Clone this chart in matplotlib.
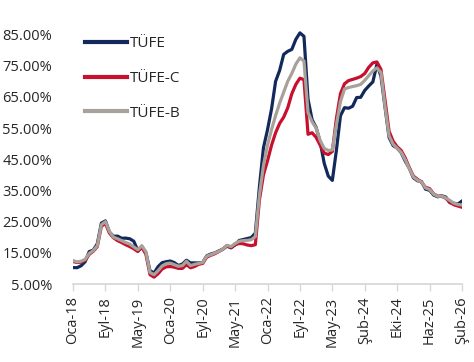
import matplotlib
matplotlib.use("Agg")
import matplotlib.pyplot as plt
from matplotlib.ticker import FixedLocator, FuncFormatter

plt.rcParams['font.family'] = ['Open Sans', 'DejaVu Sans']

# Monthly annual inflation (%), 97 points (Feb-2018 .. Feb-2026)
tufe = [10.26, 10.23, 10.85, 12.15, 15.39, 15.85, 17.90, 24.52, 25.24, 21.62, 20.30,
        20.35, 19.67, 19.71, 19.50, 18.71, 15.72, 16.65, 15.01, 9.26, 8.55, 10.56, 11.84,
        12.15, 12.37, 11.86, 10.94, 11.39, 12.62, 11.76, 11.77, 11.75, 11.89, 14.03, 14.60,
        14.97, 15.61, 16.19, 17.14, 16.59, 17.53, 18.95, 19.25, 19.58, 19.89, 21.31, 36.08,
        48.69, 54.44, 61.14, 69.97, 73.50, 78.62, 79.60, 80.21, 83.45, 85.51, 84.39, 64.27,
        57.68, 55.18, 50.51, 43.68, 39.59, 38.21, 47.83, 58.94, 61.53, 61.36, 61.98, 64.77,
        64.86, 67.07, 68.50, 69.80, 75.45, 71.60, 61.78, 51.97, 49.38, 48.58, 47.09, 44.38,
        42.12, 39.05, 38.10, 37.86, 35.41, 35.05, 33.52, 32.95, 33.29, 32.87, 31.07, 30.89,
        30.65, 31.60]

tufe_c = [12.2, 11.9, 12.0, 12.6, 14.5, 15.5, 17.0, 23.5, 24.4, 21.3, 19.8,
          18.9, 18.3, 17.6, 17.0, 16.3, 15.4, 16.9, 14.5, 8.0, 7.2, 8.3, 9.8,
          10.5, 10.6, 10.4, 10.0, 10.0, 11.2, 10.2, 10.6, 11.3, 11.6, 13.6, 14.2,
          14.7, 15.4, 16.2, 17.3, 16.7, 17.6, 18.0, 17.9, 17.5, 17.3, 17.6, 31.9,
          40.0, 44.5, 49.5, 53.5, 56.5, 58.5, 61.5, 66.0, 69.0, 71.0, 70.5, 53.0,
          53.5, 52.0, 49.5, 47.0, 46.5, 47.5, 58.0, 66.0, 69.2, 70.2, 70.6, 71.0,
          71.5, 72.5, 74.5, 75.9, 76.2, 73.8, 64.0, 54.0, 50.8, 49.0, 47.8, 45.4,
          42.3, 39.6, 38.6, 37.6, 36.0, 35.6, 33.9, 33.2, 33.1, 32.5, 31.2, 30.4,
          30.0, 29.6]

tufe_b = [12.5, 12.1, 12.3, 12.9, 14.8, 15.7, 17.3, 24.0, 25.0, 21.8, 20.0,
          19.5, 18.9, 18.3, 17.8, 16.9, 16.0, 17.3, 15.3, 8.7, 8.0, 9.3, 10.8,
          11.5, 11.7, 11.2, 10.7, 10.9, 12.3, 10.9, 11.3, 11.6, 11.9, 13.9, 14.4,
          14.9, 15.5, 16.2, 17.4, 17.0, 18.0, 18.7, 18.9, 19.0, 19.2, 20.2, 33.5,
          43.0, 49.5, 54.5, 59.0, 63.0, 66.5, 70.0, 72.5, 75.5, 77.5, 76.5, 60.0,
          57.0, 55.0, 51.0, 48.5, 47.8, 48.0, 56.0, 63.5, 67.5, 68.0, 68.3, 68.6,
          69.0, 70.3, 71.8, 73.3, 74.3, 72.8, 62.0, 52.5, 49.8, 48.5, 47.2, 44.8,
          42.0, 39.3, 38.3, 37.7, 35.8, 35.3, 33.8, 33.1, 33.2, 32.6, 31.8, 30.9,
          30.5, 30.3]

tick_labels = ["Oca-18", "Eyl-18", "May-19", "Oca-20", "Eyl-20", "May-21", "Oca-22",
               "Eyl-22", "May-23", "Şub-24", "Eki-24", "Haz-25", "Şub-26"]
y_ticks = [5, 15, 25, 35, 45, 55, 65, 75, 85]

series = [("TÜFE", tufe, "#13295b"),
          ("TÜFE-C", tufe_c, "#c8102e"),
          ("TÜFE-B", tufe_b, "#a8a199")]

fig = plt.figure(figsize=(4.74, 3.62), dpi=100)
ax = fig.add_axes([73/474, 1-284/362, (462-73)/474, (284-22)/362])

x = list(range(len(tufe)))
for name, vals, col in series:
    ax.plot(x, vals, color=col, lw=2.3, label=name, solid_joinstyle='round')

ax.set_xlim(0, len(tufe) - 1)
ax.set_ylim(5, 89)
ax.xaxis.set_major_locator(FixedLocator(list(range(0, len(tufe), 8))))
ax.set_xticklabels(tick_labels, rotation=90, fontsize=10.5, color="#262626")
ax.set_yticks(y_ticks)
ax.yaxis.set_major_formatter(FuncFormatter(lambda v, p: f"{v:.2f}%"))
ax.tick_params(axis='y', length=0, labelsize=10.5, labelcolor="#262626", pad=15)
ax.tick_params(axis='x', length=5, width=1, color="#d9d9d9", pad=4)

for s in ['top', 'right', 'left']:
    ax.spines[s].set_visible(False)
ax.spines['bottom'].set_color("#d9d9d9")
ax.spines['bottom'].set_linewidth(1.3)

leg = ax.legend(loc='upper left', bbox_to_anchor=(85/474, 1-36/362),
                bbox_transform=fig.transFigure, frameon=False, fontsize=11,
                handlelength=2.75, handletextpad=0.2, labelspacing=1.3,
                borderpad=0, borderaxespad=0)
for line in leg.get_lines():
    line.set_linewidth(3)
for t in leg.get_texts():
    t.set_color("#262626")

fig.savefig("out.png", dpi=100)
